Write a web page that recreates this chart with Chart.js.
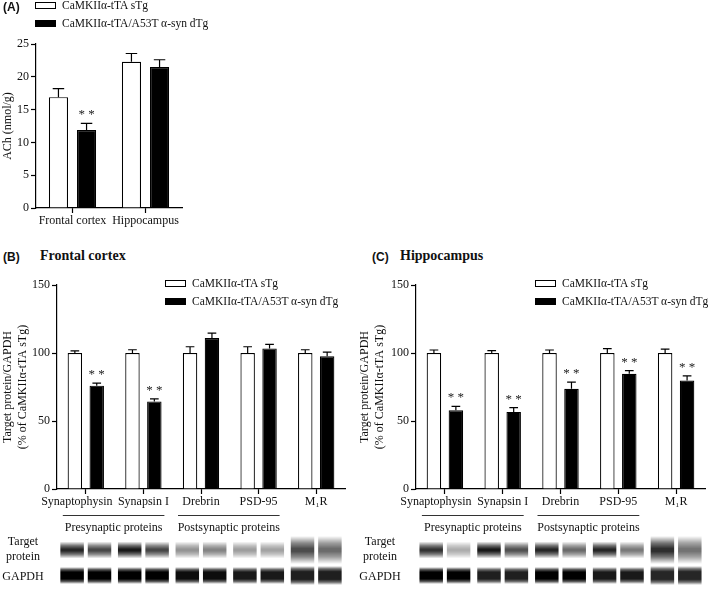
<!DOCTYPE html>
<html>
<head>
<meta charset="utf-8">
<script src="https://cdn.jsdelivr.net/npm/chart.js@4.4.1/dist/chart.umd.min.js"></script>
<style>
body { margin: 0; background: #fff; width: 709px; height: 591px; position: relative; overflow: hidden;
       font-family: "Liberation Serif", "Times New Roman", serif; color: #111; }
canvas { position: absolute; }
.t { position: absolute; white-space: nowrap; line-height: 14px; }
.tag { font: bold 12px "Liberation Sans", Arial, sans-serif; }
.head { font: bold 14px "Liberation Serif", serif; }
.leg { font-size: 11.5px; }
.box { position: absolute; width: 19px; height: 5px; border: 1px solid #000; }
</style>
</head>
<body>
<canvas id="chartA" width="200" height="240" style="left:0;top:0"></canvas>
<canvas id="chartB" width="355" height="321" style="left:0;top:270px"></canvas>
<canvas id="chartC" width="354" height="321" style="left:355px;top:270px"></canvas>

<script>
// (A) acetylcholine content
const acCategories = ["Frontal cortex", "Hippocampus"];
const acSTg = [16.9, 22.3];
const acSTgErr = [1.3, 1.25];
const acDTg = [11.9, 21.5];
const acDTgErr = [1.0, 1.1];
const acStars = [false, false];
const acDTgStars = [true, false];
const acTicks = [0, 5, 10, 15, 20, 25];

// (B) / (C) synaptic proteins
const proteinLabels = ["Synaptophysin", "Synapsin I", "Drebrin", "PSD-95", "M\u2081R"];
const percentTicks = [0, 50, 100, 150];

const fcSTg = [100, 100, 100, 100, 100];
const fcSTgErr = [1.5, 2.4, 4.6, 4.6, 2.4];
const fcDTg = [76.0, 64.4, 111.0, 103.4, 97.6];
const fcDTgErr = [1.8, 1.9, 3.6, 2.9, 3.1];
const fcDTgStars = [true, true, false, false, false];

const hcSTg = [100, 100, 100, 100, 100];
const hcSTgErr = [2.2, 1.7, 2.2, 3.2, 2.9];
const hcDTg = [57.9, 56.7, 73.7, 84.7, 79.8];
const hcDTgErr = [2.9, 3.2, 4.9, 2.4, 3.4];
const hcDTgStars = [true, true, true, true, true];

const proteinGroups = [
    { label: "Presynaptic proteins", from: 0, to: 1 },
    { label: "Postsynaptic proteins", from: 2, to: 3 }
];

// band darkness per lane (sTg, dTg for each protein)
const fcTargetBands = [0.85, 0.72, 0.9, 0.72, 0.42, 0.48, 0.38, 0.36, 0.7, 0.58];
const fcGapdhBands = [1, 1, 1, 1, 0.95, 0.95, 0.9, 0.9, 0.88, 0.88];
const hcTargetBands = [0.8, 0.32, 0.9, 0.68, 0.85, 0.58, 0.85, 0.52, 0.82, 0.55];
const hcGapdhBands = [1, 1, 0.88, 0.88, 1, 1, 0.9, 0.9, 0.85, 0.85];

const legendLabels = ["CaMKII\u03b1-tTA sTg", "CaMKII\u03b1-tTA/A53T \u03b1-syn dTg"];

Chart.defaults.font.family = '"Liberation Serif", "Times New Roman", serif';
Chart.defaults.color = "#111";

const errorBars = {
    id: "errorBars",
    afterDatasetsDraw(chart) {
        const ctx = chart.ctx;
        const y = chart.scales.y;
        chart.data.datasets.forEach((ds, di) => {
            const meta = chart.getDatasetMeta(di);
            meta.data.forEach((bar, i) => {
                const top = y.getPixelForValue(ds.data[i] + ds.errors[i]);
                const cap = bar.width * 0.3;
                ctx.save();
                ctx.strokeStyle = "#000";
                ctx.lineWidth = 1.2;
                ctx.beginPath();
                ctx.moveTo(bar.x, bar.y);
                ctx.lineTo(bar.x, top);
                ctx.moveTo(bar.x - cap, top);
                ctx.lineTo(bar.x + cap, top);
                ctx.stroke();
                if (ds.stars[i]) {
                    ctx.font = '13px "Liberation Serif"';
                    ctx.textAlign = "center";
                    ctx.fillStyle = "#222";
                    ctx.fillText("* *", bar.x, top - 5);
                }
                ctx.restore();
            });
        });
    }
};

function band(ctx, cx, cy, w, h, d, soft) {
    const g = ctx.createLinearGradient(0, cy - h / 2, 0, cy + h / 2);
    const a = (k) => "rgba(0,0,0," + (d * k).toFixed(3) + ")";
    g.addColorStop(0, a(0));
    g.addColorStop(soft ? 0.25 : 0.15, a(0.65));
    g.addColorStop(soft ? 0.45 : 0.3, a(1));
    g.addColorStop(soft ? 0.55 : 0.7, a(1));
    g.addColorStop(soft ? 0.75 : 0.85, a(0.65));
    g.addColorStop(1, a(0));
    ctx.filter = "blur(0.6px)";
    ctx.fillStyle = g;
    ctx.fillRect(cx - w / 2, cy - h / 2, w, h);
    ctx.filter = "none";
}

const blots = {
    id: "blots",
    afterDraw(chart, args, o) {
        if (!o.target) return;
        const ctx = chart.ctx;
        const x = chart.scales.x;
        const base = chart.chartArea.bottom;
        ctx.save();
        ctx.strokeStyle = "#333";
        ctx.lineWidth = 1;
        ctx.font = '12px "Liberation Serif"';
        ctx.fillStyle = "#111";
        ctx.textAlign = "center";
        ctx.textBaseline = "middle";
        proteinGroups.forEach(g => {
            const x0 = x.getPixelForTick(g.from) - 23;
            const x1 = x.getPixelForTick(g.to) + 21;
            ctx.beginPath();
            ctx.moveTo(x0, base + 26.5);
            ctx.lineTo(x1, base + 26.5);
            ctx.stroke();
            ctx.fillText(g.label, (x0 + x1) / 2, base + 39);
        });
        ctx.fillText("Target", o.labelX, base + 53);
        ctx.fillText("protein", o.labelX, base + 68);
        ctx.fillText("GAPDH", o.labelX, base + 88);
        o.target.forEach((d, i) => {
            const k = Math.floor(i / 2);
            const cx = x.getPixelForTick(k) + (i % 2 ? 13.7 : -13.7);
            const tall = k === 4;
            band(ctx, cx, base + 61, 23.5, tall ? 28 : 17, d, true);
            band(ctx, cx, base + 86.5, 23.5, tall ? 19 : 17, o.gapdh[i], false);
        });
        ctx.restore();
    }
};

Chart.register(errorBars, blots);

function makeChart(id, cfg) {
    const tickFont = { size: 12 };
    return new Chart(document.getElementById(id), {
        type: "bar",
        data: {
            labels: cfg.labels,
            datasets: [
                { label: legendLabels[0], data: cfg.s, errors: cfg.sErr, stars: cfg.sStars,
                  backgroundColor: "#fff", borderColor: "#000", borderWidth: 1.2 },
                { label: legendLabels[1], data: cfg.d, errors: cfg.dErr, stars: cfg.dStars,
                  backgroundColor: "#000", borderColor: "#000", borderWidth: 1.2 }
            ]
        },
        options: {
            responsive: false,
            animation: false,
            layout: { padding: cfg.pad },
            datasets: { bar: { categoryPercentage: cfg.cat, barPercentage: cfg.bar } },
            plugins: {
                legend: { display: false },
                tooltip: { enabled: false },
                blots: cfg.blots || {}
            },
            scales: {
                x: {
                    grid: { offset: false, drawOnChartArea: false, tickLength: 5, tickColor: "#000", tickWidth: 1.2 },
                    border: { color: "#000", width: 1.2 },
                    ticks: {
                        font: tickFont, padding: 1, maxRotation: 0, minRotation: 0, autoSkip: false,
                        // first protein label sits a little left of its tick in the original
                        callback(value, index) {
                            const l = this.getLabelForValue(value);
                            return (cfg.blots && index === 0) ? l + "\u2003\u2002" : l;
                        }
                    },
                    afterFit(s) { s.height = cfg.xh; }
                },
                y: {
                    min: 0,
                    max: cfg.ticks[cfg.ticks.length - 1],
                    afterBuildTicks(s) { s.ticks = cfg.ticks.map(v => ({ value: v })); },
                    grid: { drawOnChartArea: false, tickLength: 5, tickColor: "#000", tickWidth: 1.2 },
                    border: { color: "#000", width: 1.2 },
                    ticks: { font: tickFont, padding: 2 },
                    title: { display: true, text: cfg.title, font: { size: 12, lineHeight: 1.25 }, padding: 0 },
                    afterFit(s) { s.width = cfg.yw; }
                }
            }
        }
    });
}

makeChart("chartA", {
    labels: acCategories, s: acSTg, sErr: acSTgErr, sStars: acStars,
    d: acDTg, dErr: acDTgErr, dStars: acDTgStars, ticks: acTicks,
    title: "ACh (nmol/g)", pad: { left: 0, top: 44, right: 18, bottom: 0 },
    yw: 36, xh: 32, cat: 0.77, bar: 0.68
});

makeChart("chartB", {
    labels: proteinLabels, s: fcSTg, sErr: fcSTgErr, sStars: [false, false, false, false, false],
    d: fcDTg, dErr: fcDTgErr, dStars: fcDTgStars, ticks: percentTicks,
    title: ["Target protein/GAPDH", "(% of CaMKII\u03b1-tTA sTg)"],
    pad: { left: 0, top: 15, right: 10, bottom: 71 },
    yw: 57, xh: 31, cat: 0.76, bar: 0.66,
    blots: { target: fcTargetBands, gapdh: fcGapdhBands, labelX: 23 }
});

makeChart("chartC", {
    labels: proteinLabels, s: hcSTg, sErr: hcSTgErr, sStars: [false, false, false, false, false],
    d: hcDTg, dErr: hcDTgErr, dStars: hcDTgStars, ticks: percentTicks,
    title: ["Target protein/GAPDH", "(% of CaMKII\u03b1-tTA sTg)"],
    pad: { left: 2.5, top: 15, right: 4, bottom: 71 },
    yw: 58.5, xh: 31, cat: 0.76, bar: 0.66,
    blots: { target: hcTargetBands, gapdh: hcGapdhBands, labelX: 25 }
});

// panel tags, headings and legends
function text(cls, str, x, y) {
    const el = document.createElement("div");
    el.className = "t " + cls;
    el.textContent = str;
    el.style.left = x + "px";
    el.style.top = (y - 7) + "px";
    document.body.appendChild(el);
}
function legend(x, y) {
    legendLabels.forEach((lbl, i) => {
        const cy = y + i * 18;
        const b = document.createElement("div");
        b.className = "box";
        b.style.left = x + "px";
        b.style.top = (cy - 3.5) + "px";
        b.style.background = i ? "#000" : "#fff";
        document.body.appendChild(b);
        text("leg", lbl, x + 27, cy);
    });
}
text("tag", "(A)", 3, 7);
text("tag", "(B)", 3, 257);
text("tag", "(C)", 372, 257);
text("head", "Frontal cortex", 40, 255);
text("head", "Hippocampus", 400, 255);
legend(35, 5);
legend(165, 283);
legend(535, 283);
</script>
</body>
</html>
